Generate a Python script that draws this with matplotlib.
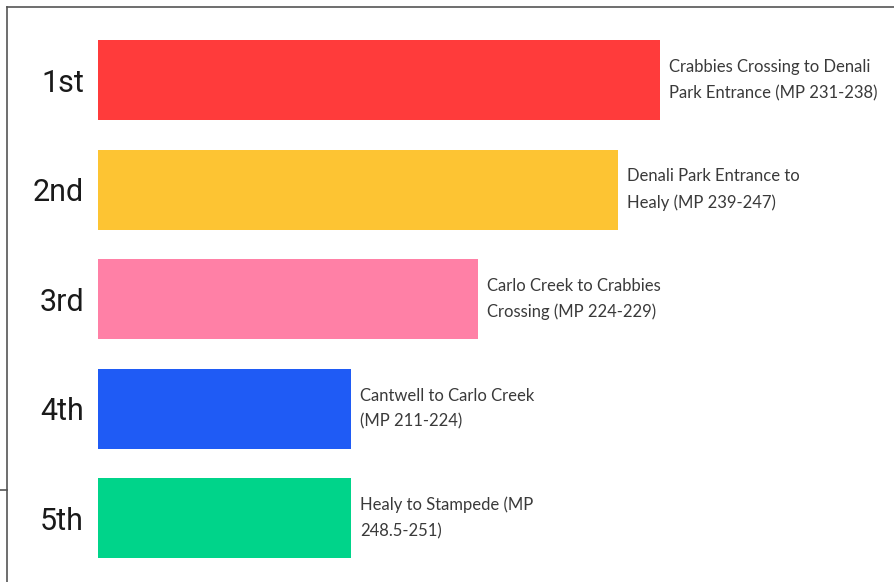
import matplotlib.pyplot as plt
from matplotlib.lines import Line2D

# Ranked road segments (bar length in arbitrary units)
ranks = ["1st", "2nd", "3rd", "4th", "5th"]
segments = [
    "Crabbies Crossing to Denali\nPark Entrance (MP 231-238)",
    "Denali Park Entrance to\nHealy (MP 239-247)",
    "Carlo Creek to Crabbies\nCrossing (MP 224-229)",
    "Cantwell to Carlo Creek\n(MP 211-224)",
    "Healy to Stampede (MP\n248.5-251)",
]
values = [562, 520, 380, 253, 253]
colors = ["#FF3B3B", "#FDC433", "#FF80A6", "#1F5BF5", "#00D48A"]

W, H = 894, 582
fig = plt.figure(figsize=(W / 100, H / 100), dpi=100)
fig.patch.set_facecolor("white")

# axes: x starts at the bars' left edge (98 px), 1 unit = 1 px
ax = fig.add_axes([98 / W, 0, 1 - 98 / W, 1])
ax.set_xlim(0, W - 98)
ax.set_ylim(4.584, -0.731)

y = list(range(len(ranks)))
ax.barh(y, values, height=0.73, color=colors)

for yi, v, txt in zip(y, values, segments):
    ax.text(v + 9, yi, txt, va="center", ha="left", fontsize=12,
            family=["Liberation Sans Narrow", "Lato"], color="#3a3a3a",
            linespacing=1.75)

ax.set_yticks(y)
ax.set_yticklabels(ranks, fontsize=22,
                   family=["Liberation Sans Narrow", "Roboto"], color="#1a1a1a")
ax.tick_params(axis="y", length=0, pad=10)
ax.set_xticks([])
for s in ax.spines.values():
    s.set_visible(False)

# thin frame of the original screenshot
lc = "#555555"
fig.add_artist(Line2D([7 / W, 1], [1 - 7 / H, 1 - 7 / H], color=lc, lw=1.2))
fig.add_artist(Line2D([7 / W, 7 / W], [0, 1 - 7 / H], color=lc, lw=1.2))
fig.add_artist(Line2D([0, 7 / W], [1 - 490 / H, 1 - 490 / H], color=lc, lw=1.2))

fig.savefig("out.png", dpi=100)
